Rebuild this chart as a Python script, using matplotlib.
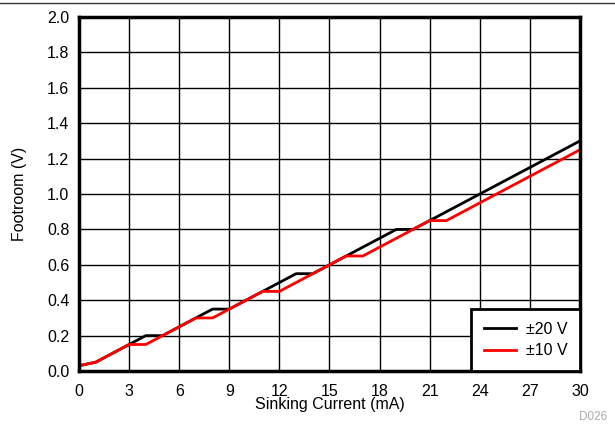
import matplotlib
matplotlib.use("Agg")
import matplotlib.pyplot as plt
from matplotlib.lines import Line2D

plt.rcParams['font.family'] = ['Liberation Sans', 'DejaVu Sans']

# sinking current (mA) and footroom (V)
current = [0, 1, 2, 3, 4, 5, 6, 7, 8, 9, 10, 11, 12, 13, 14, 15,
           16, 17, 18, 19, 20, 21, 22, 23, 24, 25, 26, 27, 28, 29, 30]
foot_20v = [0.03, 0.05, 0.10, 0.15, 0.20, 0.20, 0.25, 0.30, 0.35, 0.35, 0.40,
            0.45, 0.50, 0.55, 0.55, 0.60, 0.65, 0.70, 0.75, 0.80, 0.80,
            0.85, 0.90, 0.95, 1.00, 1.05, 1.10, 1.15, 1.20, 1.25, 1.30]
foot_10v = [0.03, 0.05, 0.10, 0.15, 0.15, 0.20, 0.25, 0.30, 0.30, 0.35, 0.40,
            0.45, 0.45, 0.50, 0.55, 0.60, 0.65, 0.65, 0.70, 0.75, 0.80,
            0.85, 0.85, 0.90, 0.95, 1.00, 1.05, 1.10, 1.15, 1.20, 1.25]

fig = plt.figure(figsize=(6.15, 4.26), dpi=100)
ax = fig.add_axes([0.1285, 0.129, 0.8145, 0.831])

ax.plot(current, foot_20v, color='black', lw=2, label='±20 V')
ax.plot(current, foot_10v, color='#ff0000', lw=2, label='±10 V')

ax.set_xlim(0, 30)
ax.set_ylim(0, 2.0)
ax.set_xticks(range(0, 31, 3))
ax.set_yticks([i * 0.2 for i in range(11)])
ax.set_yticklabels(['%.1f' % (i * 0.2) for i in range(11)])
ax.grid(True, color='black', lw=1)
ax.set_axisbelow(True)
ax.tick_params(length=0, labelsize=11.5)
ax.tick_params(axis='x', pad=9)
ax.tick_params(axis='y', pad=7)
for s in ax.spines.values():
    s.set_linewidth(2.5)

ax.set_xlabel('Sinking Current (mA)', fontsize=11.5, labelpad=-1)
ax.set_ylabel('Footroom (V)', fontsize=11.5, labelpad=14)

leg = ax.legend(loc='lower right', fontsize=11.5, fancybox=False, framealpha=1,
                borderaxespad=0, handlelength=2.0, handletextpad=0.6,
                borderpad=0.8, labelspacing=0.4)
leg.get_frame().set_edgecolor('black')
leg.get_frame().set_linewidth(2)

fig.text(0.988, 0.008, 'D026', color='#aaaaaa', fontsize=8.5, ha='right', va='bottom')
fig.add_artist(Line2D([0, 1], [0.993, 0.993], color='#333333', lw=1,
                      transform=fig.transFigure))

fig.savefig('out.png', dpi=100)
